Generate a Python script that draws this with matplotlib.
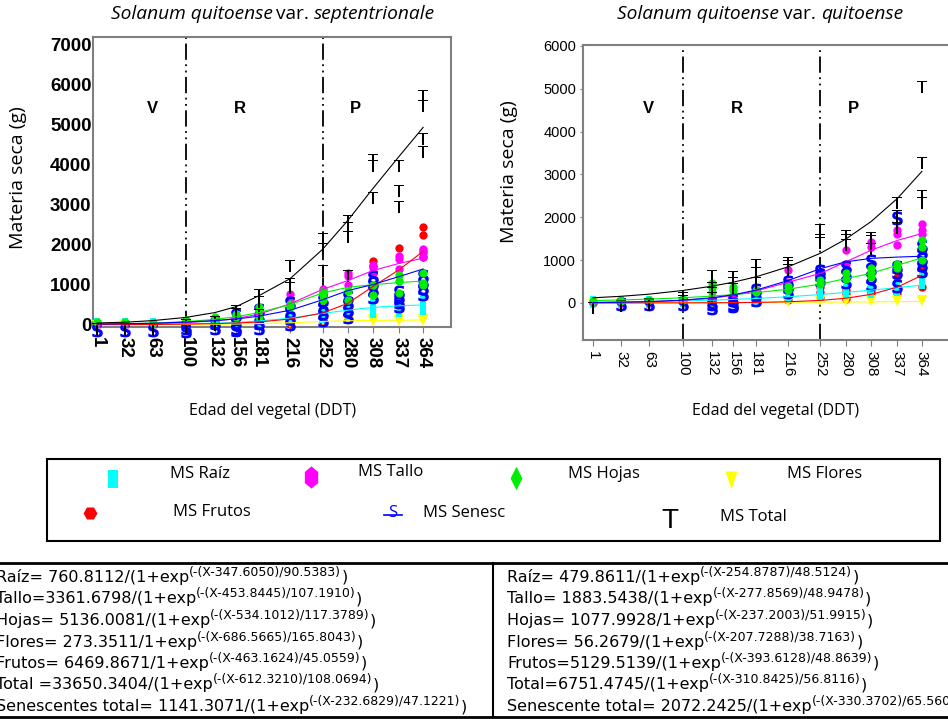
import matplotlib
matplotlib.use('Agg')
import matplotlib.pyplot as plt
from matplotlib import font_manager
from matplotlib.textpath import TextPath
from matplotlib.font_manager import FontProperties
from matplotlib.path import Path
from matplotlib.patches import Rectangle

plt.rcParams['font.family'] = ['Open Sans', 'DejaVu Sans']
names = {f.name for f in font_manager.fontManager.ttflist}
NARROW = 'Liberation Sans Narrow' if 'Liberation Sans Narrow' in names else 'Liberation Sans'

# sampling days (DDT)
days = [1, 32, 63, 100, 132, 156, 181, 216, 252, 280, 308, 337, 364]

# ---- S. quitoense var. septentrionale (left) : replicate values per day
sep_raiz = [[5], [5], [8], [15, 25], [30, 45], [45, 70], [70, 100], [120, 170], [200, 260],
            [270, 340], [320, 400, 480], [350, 450, 520], [400, 480, 580]]
sep_tallo = [[10], [10], [15], [40, 60], [80, 110], [130, 180], [220, 300], [600, 770], [790, 900],
             [1000, 1210, 1290], [1300, 1420, 1500], [1380, 1640, 1720], [1700, 1790, 1890]]
sep_hojas = [[60], [55], [50], [80, 120], [110, 180], [180, 270], [190, 350, 430], [440, 520],
             [620, 750, 830], [625, 830], [750, 1000], [790, 1080, 1250], [980, 1040, 1290]]
sep_flores = [[0], [0], [0], [0], [0], [0], [0], [30], [90], [100, 140], [100, 140], [100, 140], [100, 140]]
sep_frutos = [[0], [0], [0], [0], [5], [10], [20], [10, 40, 100], [60, 160, 250], [140, 250, 400],
              [1300, 1460, 1600, 900], [470, 560, 700, 1920], [1700, 1830, 2230, 2450]]
sep_senesc = [[40], [40], [40], [20, 80], [80, 220], [30, 100, 250, 420], [100, 210, 375, 540],
              [200, 350, 500, 710], [290, 460, 625, 790], [375, 540, 710, 875], [875, 1040, 1210, 1375],
              [640, 750, 875, 1000], [950, 1100, 1250, 1380]]
sep_total = [[40], [40], [40], [100, 150], [150, 225], [420, 500], [390, 710, 890], [1070, 1170, 1625],
             [1500, 2040, 2290], [1375, 2330, 2560, 2750], [3320, 4125, 4270], [3080, 3500, 4110],
             [4460, 4790, 5620, 5870]]
# fitted curves read at each day
sep_fit_raiz = [3, 5, 9, 19, 35, 55, 90, 160, 280, 360, 430, 470, 490]
sep_fit_tallo = [6, 11, 23, 50, 95, 150, 260, 520, 880, 1100, 1350, 1530, 1660]
sep_fit_hojas = [11, 20, 37, 75, 130, 195, 300, 500, 790, 930, 1000, 1050, 1090]
sep_fit_flores = [0, 0, 2, 5, 9, 15, 25, 45, 80, 95, 105, 110, 115]
sep_fit_frutos = [0, 1, 3, 12, 24, 40, 65, 140, 290, 530, 950, 1370, 1830]
sep_fit_senesc = [14, 22, 35, 62, 100, 140, 210, 360, 620, 850, 1000, 1200, 1390]
sep_fit_total = [40, 60, 100, 180, 300, 450, 720, 1150, 1880, 2600, 3400, 4200, 4930]

# ---- S. quitoense var. quitoense (right)
qui_raiz = [[15], [20], [30], [40], [60, 90], [80, 120], [100, 150], [150, 200], [200, 250],
            [250, 300], [250, 300], [300, 380], [460, 610]]
qui_tallo = [[30], [10], [10], [20], [100], [150], [250, 300], [500, 770], [600, 690],
             [900, 1230], [1310, 1430], [1350, 1620, 1700], [1620, 1700, 1850]]
qui_hojas = [[50], [50], [60], [80, 100], [260, 380, 460], [300, 380], [250, 300], [300, 400],
             [450, 540], [570, 690], [600, 690, 810], [810, 920], [1000, 1300, 1470]]
qui_flores = [[0], [0], [0], [0], [0], [0], [0], [30], [40, 70], [40, 70], [40, 70], [40, 70], [40, 70]]
qui_frutos = [[10], [10], [10], [10], [20, 30], [20, 30], [20, 30], [70], [150, 250, 380],
              [100, 200, 300], [230, 300, 380], [230, 300, 610], [380, 810]]
qui_senesc = [[], [140], [140], [140], [40, 150], [100, 150, 230], [230, 340, 460], [420, 540, 650],
              [690, 810, 920], [650, 850, 1000], [610, 770, 960, 1150], [570, 880, 1000, 2140],
              [920, 1040, 1190, 1350, 1500]]
qui_total = [[30], [70, 80], [90, 110], [150, 190, 260], [260, 380, 500, 780], [460, 610, 750],
             [610, 840, 1020], [920, 1000, 1080], [1540, 1620, 1850], [1500, 1620, 1700],
             [1390, 1580, 1660], [1900, 2180, 2470], [2470, 2630, 3400, 5190]]
qui_fit_raiz = [16, 23, 32, 46, 64, 82, 104, 144, 196, 245, 298, 358, 415]
qui_fit_tallo = [10, 20, 30, 60, 110, 180, 280, 480, 690, 960, 1230, 1460, 1620]
qui_fit_hojas = [55, 70, 90, 120, 160, 195, 240, 320, 440, 570, 690, 880, 1050]
qui_fit_flores = [4, 5, 6, 8, 9, 10, 12, 15, 19, 22, 25, 30, 34]
qui_fit_frutos = [0, 0, 1, 2, 4, 7, 12, 27, 59, 109, 200, 370, 645]
qui_fit_senesc = [8, 16, 30, 65, 120, 190, 300, 520, 800, 960, 1040, 1070, 1090]
qui_fit_total = [120, 155, 205, 290, 390, 485, 610, 840, 1160, 1490, 1900, 2440, 3070]

# equations printed under the plots
eq_left = [("Raíz= 760.8112/(1+exp", "(-(X-347.6050)/90.5383)"),
           ("Tallo=3361.6798/(1+exp", "(-(X-453.8445)/107.1910)"),
           ("Hojas= 5136.0081/(1+exp", "(-(X-534.1012)/117.3789)"),
           ("Flores= 273.3511/1+exp", "(-(X-686.5665)/165.8043)"),
           ("Frutos= 6469.8671/1+exp", "(-(X-463.1624)/45.0559)"),
           ("Total =33650.3404/(1+exp", "(-(X-612.3210)/108.0694)"),
           ("Senescentes total= 1141.3071/(1+exp", "(-(X-232.6829)/47.1221)")]
eq_right = [("Raíz= 479.8611/(1+exp", "(-(X-254.8787)/48.5124)"),
            ("Tallo= 1883.5438/(1+exp", "(-(X-277.8569)/48.9478)"),
            ("Hojas= 1077.9928/1+exp", "(-(X-237.2003)/51.9915)"),
            ("Flores= 56.2679/(1+exp", "(-(X-207.7288)/38.7163)"),
            ("Frutos=5129.5139/(1+exp", "(-(X-393.6128)/48.8639)"),
            ("Total=6751.4745/(1+exp", "(-(X-310.8425)/56.8116)"),
            ("Senescente total= 2072.2425/(1+exp", "(-(X-330.3702)/65.5600)")]


def glyph(ch, bold=False):
    # letter marker hanging below its data point
    tp = TextPath((0, 0), ch, size=1,
                  prop=FontProperties(family='DejaVu Sans', weight='bold' if bold else 'normal'))
    bb = tp.get_extents()
    v = tp.vertices.copy()
    v[:, 0] -= (bb.x0 + bb.x1) / 2
    v[:, 1] -= bb.y1
    return Path(v, tp.codes)


def poly(pts):
    return Path(pts + [pts[0]], closed=True)


T_mark = glyph('T')
S_mark = glyph('S', bold=True)
rect_mark = poly([(-0.3, -0.5), (0.3, -0.5), (0.3, 0.5), (-0.3, 0.5)])
hex_mark = poly([(0, 0.5), (0.3, 0.25), (0.3, -0.25), (0, -0.5), (-0.3, -0.25), (-0.3, 0.25)])
dia_mark = poly([(0, 0.5), (0.25, 0), (0, -0.5), (-0.25, 0)])
tri_mark = poly([(-0.33, 0.5), (0.33, 0.5), (0, -0.5)])

CY, MG, GR, YE, RD, BL = '#00ffff', '#ff00ff', '#00ee00', '#ffff00', '#ff0000', '#0000ff'


def reps(ax, vals, marker, color, ms):
    xs = [d for d, r in zip(days, vals) for _ in r]
    ys = [v for r in vals for v in r]
    ax.plot(xs, ys, ls='none', marker=marker, color=color, ms=ms, mew=0, clip_on=False, zorder=3)


def panel(ax, data, fits):
    raiz, tallo, hojas, flores, frutos, senesc, total = data
    reps(ax, frutos, 'o', RD, 6)
    reps(ax, flores, 'v', YE, 6.5)
    reps(ax, raiz, rect_mark, CY, 8)
    reps(ax, tallo, 'o', MG, 6)
    reps(ax, senesc, S_mark, BL, 20)
    reps(ax, hojas, 'o', GR, 6)
    reps(ax, total, T_mark, 'black', 17)
    for f, c in zip(fits, [CY, MG, GR, YE, RD, BL, 'black']):
        ax.plot(days, f, color=c, lw=0.8, zorder=4)
    for d in (100, 252):
        ax.axvline(d, color='black', lw=1.3, dashes=(9, 2.5, 1, 2.5, 1, 2.5), zorder=2)
    ax.set_xticks(days)
    for s in ax.spines.values():
        s.set_color('#7f7f7f')
        s.set_linewidth(1.5)


fig = plt.figure(figsize=(9.48, 7.19), dpi=100)

# left panel
ax1 = fig.add_axes([93 / 948, 1 - 327 / 719, 358 / 948, 290 / 719])
panel(ax1, [sep_raiz, sep_tallo, sep_hojas, sep_flores, sep_frutos, sep_senesc, sep_total],
      [sep_fit_raiz, sep_fit_tallo, sep_fit_hojas, sep_fit_flores, sep_fit_frutos, sep_fit_senesc, sep_fit_total])
ax1.set_xlim(-3.5, 395)
ax1.set_ylim(-60, 7190)
ax1.set_yticks(range(0, 7001, 1000))
narrow_b = dict(family=[NARROW, 'DejaVu Sans'], weight='bold')
ax1.set_xticklabels([str(d) for d in days], rotation=270, fontsize=13.5, **narrow_b)
ax1.set_yticklabels([str(v) for v in range(0, 7001, 1000)], fontsize=14.5 if NARROW != 'Liberation Sans' else 13.5,
                    **narrow_b)
ax1.tick_params(axis='y', length=0, pad=1)
ax1.tick_params(axis='x', length=4, pad=3, color='#7f7f7f')
for lab, d in zip('VRP', (63, 160, 289)):
    ax1.text(d, 5410, lab, fontsize=12, fontweight='bold', family='Liberation Sans',
             ha='center', va='center')

# right panel
ax2 = fig.add_axes([583 / 948, 1 - 340 / 719, 367 / 948, 295 / 719])
panel(ax2, [qui_raiz, qui_tallo, qui_hojas, qui_flores, qui_frutos, qui_senesc, qui_total],
      [qui_fit_raiz, qui_fit_tallo, qui_fit_hojas, qui_fit_flores, qui_fit_frutos, qui_fit_senesc, qui_fit_total])
ax2.set_xlim(-10, 395)
ax2.set_ylim(-865, 6020)
ax2.set_yticks(range(0, 6001, 1000))
ax2.set_xticklabels([str(d) for d in days], rotation=270, fontsize=11, family='Liberation Sans')
ax2.set_yticklabels([str(v) for v in range(0, 6001, 1000)], fontsize=12 if NARROW != 'Liberation Sans' else 10.5,
                    family=[NARROW, 'DejaVu Sans'])
ax2.tick_params(axis='y', length=2, pad=3, color='#7f7f7f')
ax2.tick_params(axis='x', length=4, pad=4, color='#7f7f7f')
for lab, d in zip('VRP', (62, 160, 288)):
    ax2.text(d, 4535, lab, fontsize=12, fontweight='bold', family='Liberation Sans',
             ha='center', va='center')

# overlay in pixel coordinates for titles, labels, legend and equations
ov = fig.add_axes([0, 0, 1, 1], zorder=5)
ov.set_xlim(0, 948)
ov.set_ylim(719, 0)
ov.axis('off')
rend = fig.canvas.get_renderer()


def runs(x, y, parts, family, center=False):
    objs = []
    for s, size, style, rise, gap in parts:
        t = ov.text(0, 0, s, fontsize=size, fontstyle=style, family=family, va='baseline', ha='left')
        objs.append((t, t.get_window_extent(rend).width, rise, gap))
    total = sum(w + g for _, w, _, g in objs)
    cx = x - total / 2 if center else x
    for t, w, rise, gap in objs:
        t.set_position((cx, y - rise))
        cx += w + gap


runs(273, 19, [("Solanum quitoense", 13.8, 'italic', 0, 4), ("var.", 13.8, 'normal', 0, 5),
               ("septentrionale", 13.8, 'italic', 0, 0)], ['Open Sans'], center=True)
runs(760, 19, [("Solanum quitoense", 13.8, 'italic', 0, 4), ("var.", 13.8, 'normal', 0, 5),
               ("quitoense", 13.8, 'italic', 0, 0)], ['Open Sans'], center=True)

for x, y in [(18, 178), (509, 172)]:
    ov.text(x, y, 'Materia seca (g)', rotation=90, fontsize=14, ha='center', va='center')
for x in (273, 776):
    ov.text(x, 411, 'Edad del vegetal (DDT)', fontsize=11.5, ha='center', va='center')

# legend box
ov.add_patch(Rectangle((47, 459), 893, 82, fill=False, lw=1.5, ec='black'))
leg = [(113, 479, rect_mark, CY, 13, 170, 474, 'MS Raíz'),
       (311, 477, hex_mark, MG, 16, 358, 472, 'MS Tallo'),
       (516, 478, dia_mark, GR, 17, 568, 474, 'MS Hojas'),
       (731, 480, tri_mark, YE, 13, 787, 474, 'MS Flores'),
       (90, 513, 'H', RD, 10, 173, 512, 'MS Frutos')]
for mx, my, mk, c, ms, tx, ty, lab in leg:
    ov.plot([mx], [my], ls='none', marker=mk, color=c, ms=ms, mew=0)
    ov.text(tx, ty, lab, fontsize=12, ha='left', va='center')
ov.plot([384, 402], [515, 515], color=BL, lw=1.2)
ov.text(393, 513, 'S', color=BL, fontsize=12, ha='center', va='center')
ov.text(423, 513, 'MS Senesc', fontsize=12, ha='left', va='center')
ov.text(670, 521, 'T', fontsize=20, family='Liberation Sans', ha='center', va='center')
ov.text(720, 517, 'MS Total', fontsize=12, ha='left', va='center')

# equations table
ov.plot([0, 948], [563, 563], color='black', lw=2)
ov.plot([0, 948], [717, 717], color='black', lw=2)
ov.plot([493, 493], [563, 717], color='black', lw=1.5)
for i in range(7):
    yb = 582 + i * 21.5
    for x0, (m, s) in ((-4, eq_left[i]), (507, eq_right[i])):
        runs(x0, yb, [(m, 11.5, 'normal', 0, 0), (s, 9, 'normal', 6.5, 0), (")", 11.5, 'normal', 0, 0)],
             ['DejaVu Sans'])

fig.savefig('out.png', dpi=100)
